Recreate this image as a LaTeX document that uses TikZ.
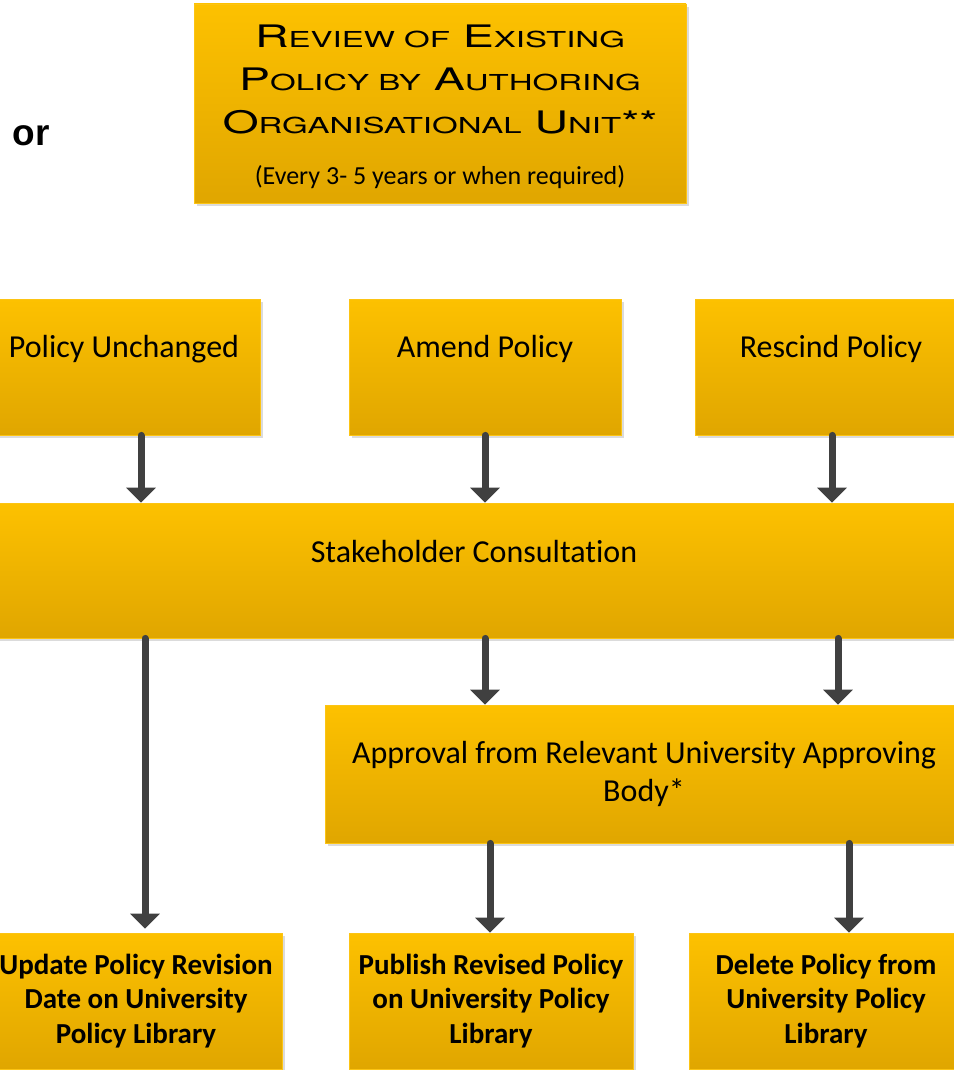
\documentclass[tikz,border=0pt]{standalone}
\usepackage{fontspec}
\setmainfont{Carlito}[Ligatures=NoCommon]
\newfontfamily\tfont{TeX Gyre Heros}
\newfontfamily\orfont{Liberation Sans}
\usetikzlibrary{arrows.meta,shadows}
\definecolor{gtop}{RGB}{253,193,0}
\definecolor{gbot}{RGB}{224,166,0}
\definecolor{gedge}{RGB}{252,196,20}
\definecolor{arrgray}{RGB}{64,64,64}
\newcommand\smc[1]{{\fontsize{22}{22}\selectfont #1}}
\newcommand\wide[1]{\scalebox{1.5}[1]{#1}}
\begin{document}
\begin{tikzpicture}[x=1pt,y=-1pt,
  font=\fontsize{32}{38}\selectfont,
  box/.style={rectangle, top color=gtop, bottom color=gbot, draw=gedge, line width=0.8pt,
    inner sep=0pt, align=center,
    drop shadow={shadow xshift=3pt, shadow yshift=-3pt, fill=black!14, opacity=1}},
  boldbox/.style={box, font=\bfseries\fontsize{29}{34.5}\selectfont},
  arr/.style={draw=arrgray, line width=7pt, line cap=round,
    -{Triangle[width=29pt,length=15pt]}},
]
\useasboundingbox (0,0) rectangle (953,1070);

\node[font=\orfont\bfseries\fontsize{37}{40}\selectfont] (or) at (31,136) {or};

\node[box, minimum width=492, minimum height=199,
  label={[align=center, yshift=-3pt, font=\tfont\fontsize{31}{43}\selectfont]center:
   \wide{R\smc{EVIEW OF} E\smc{XISTING}}\\
   \wide{P\smc{OLICY BY} A\smc{UTHORING}}\\
   \wide{O\smc{RGANISATIONAL} U\smc{NIT}**}\\[8pt]
   \normalfont\fontsize{26}{30}\selectfont (Every 3- 5 years or when required)}]
  (rev) at (440,103.5) {};

\node[box, minimum width=272, minimum height=136,
  label={[yshift=18pt]center:Policy Unchanged}] (pu) at (124,367) {};
\node[box, minimum width=272, minimum height=136,
  label={[yshift=18pt]center:Amend Policy}] (am) at (485,367) {};
\node[box, minimum width=272, minimum height=136,
  label={[yshift=18pt]center:Rescind Policy}] (rs) at (831,367) {};

\node[box, minimum width=990, minimum height=135,
  label={[yshift=19pt]center:Stakeholder Consultation}] (sc) at (474,570.5) {};

\node[box, minimum width=638, minimum height=138] (ap) at (644,774)
  {Approval from Relevant University Approving\\Body*};

\node[boldbox, minimum width=292, minimum height=136] (up) at (136,1001)
  {Update Policy Revision\\Date on University\\Policy Library};
\node[boldbox, minimum width=284, minimum height=136] (pb) at (491,1001)
  {Publish Revised Policy\\on University Policy\\Library};
\node[boldbox, minimum width=274, minimum height=136] (dl) at (826,1001)
  {Delete Policy from\\University Policy\\Library};

\draw[arr] (pu.south -| 141,0) -- (sc.north -| 141,0);
\draw[arr] (am.south -| 485,0) -- (sc.north -| 485,0);
\draw[arr] (rs.south -| 832,0) -- (sc.north -| 832,0);

\draw[arr] (sc.south -| 145,0) -- ([yshift=4pt]up.north -| 145,0);
\draw[arr] (sc.south -| 485,0) -- (ap.north -| 485,0);
\draw[arr] (sc.south -| 838,0) -- (ap.north -| 838,0);

\draw[arr] (ap.south -| 490,0) -- (pb.north -| 490,0);
\draw[arr] (ap.south -| 849,0) -- (dl.north -| 849,0);
\end{tikzpicture}
\end{document}
